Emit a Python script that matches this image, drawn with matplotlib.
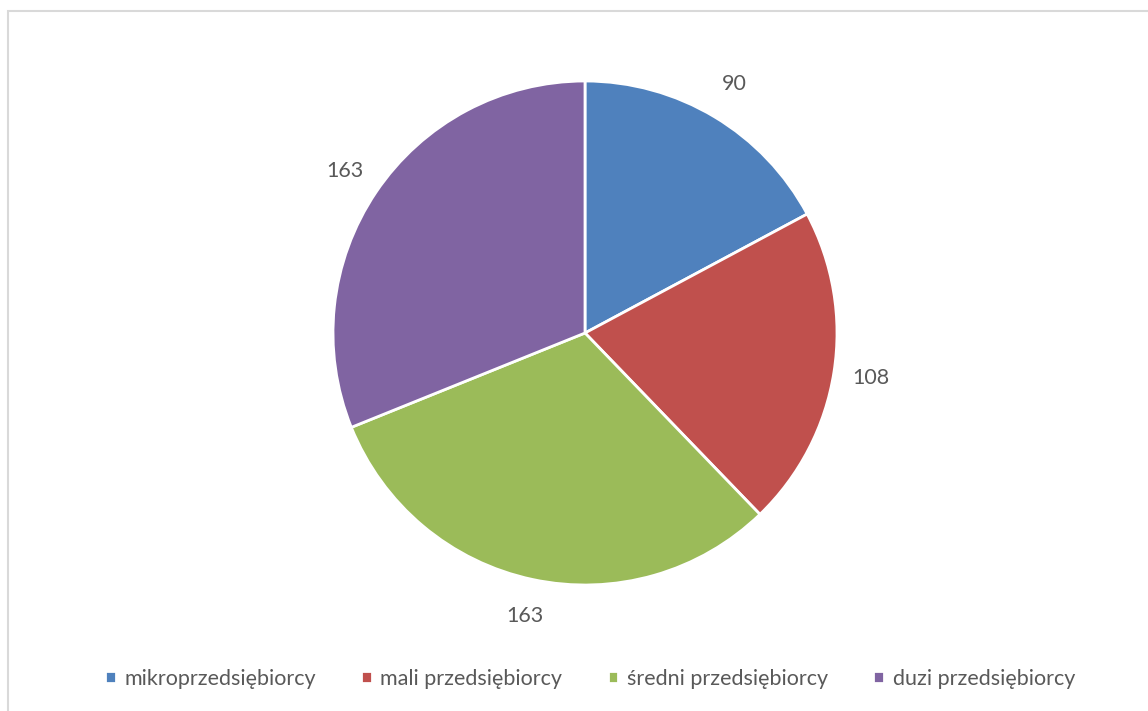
import matplotlib
matplotlib.use("Agg")
import matplotlib.pyplot as plt
from matplotlib.patches import Rectangle

categories = ["mikroprzedsiębiorcy", "mali przedsiębiorcy", "średni przedsiębiorcy", "duzi przedsiębiorcy"]
values = [90, 108, 163, 163]
colors = ["#4F81BD", "#C0504D", "#9BBB59", "#8064A2"]

plt.rcParams["font.family"] = ["Lato", "DejaVu Sans"]
text_color = "#595959"

W, H = 1148, 711
fig = plt.figure(figsize=(W / 100, H / 100), dpi=100)

# light grey chart frame (right/bottom run off the canvas)
fig.patches.append(Rectangle((8 / W, -0.1), 1.2, 1 - 11 / H + 0.1, transform=fig.transFigure,
                             fill=False, edgecolor="#D9D9D9", linewidth=1.5))

cx, cy, r = 585, 333, 252
ax = fig.add_axes([(cx - r) / W, 1 - (cy + r) / H, 2 * r / W, 2 * r / H])
total = sum(values)
wedges, _, autotexts = ax.pie(
    values,
    colors=colors,
    startangle=90,
    counterclock=False,
    radius=1.0,
    autopct=lambda p: f"{round(p * total / 100):d}",
    pctdistance=1.15,
    wedgeprops=dict(edgecolor="white", linewidth=2),
    textprops=dict(color=text_color, fontsize=15.5),
)
ax.set_xlim(-1, 1)
ax.set_ylim(-1, 1)
ax.set_aspect("equal")
ax.axis("off")

fig.legend(wedges, categories, loc="center", ncol=4, bbox_to_anchor=(590 / W, 1 - 679 / H),
           frameon=False, fontsize=15.5, labelcolor=text_color, handlelength=0.5, handleheight=0.5,
           handletextpad=0.4, columnspacing=2.1)

fig.savefig("out.png", dpi=100)
